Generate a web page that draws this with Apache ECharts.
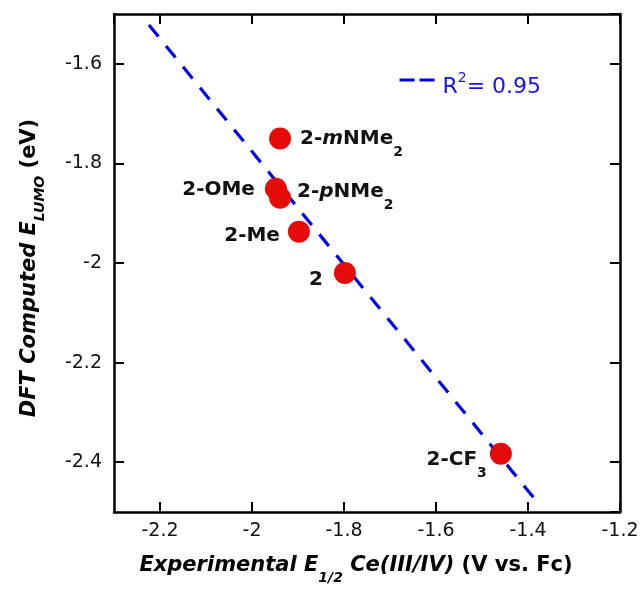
<!DOCTYPE html>
<html>
<head>
<meta charset="utf-8">
<script src="https://cdn.jsdelivr.net/npm/echarts@6/dist/echarts.min.js"></script>
<style>
html,body{margin:0;padding:0;background:#fff;}
#chart{width:644px;height:590px;}
</style>
</head>
<body>
<div id="chart"></div>
<script>
// ---- data ----
const compoundNames = ['2-mNMe2', '2-OMe', '2-pNMe2', '2-Me', '2', '2-CF3'];
const expE12 = [-1.939, -1.948, -1.939, -1.898, -1.798, -1.459];
const dftLUMO = [-1.750, -1.851, -1.869, -1.937, -2.020, -2.383];
const fitX = [-2.224, -1.380];
const fitY = [-1.522, -2.480];
const r2Value = 0.95;
const xRange = [-2.3, -1.2];
const yRange = [-2.5, -1.5];

// ---- label placement (style, not data) ----
const labelPlacement = [
  {position: 'right', distance: 9, offset: [0, 0]},
  {position: 'left', distance: 10, offset: [0, 1]},
  {position: 'right', distance: 6, offset: [0, -6]},
  {position: 'left', distance: 8, offset: [0, 4]},
  {position: 'left', distance: 11, offset: [0, 7]},
  {position: 'left', distance: 3, offset: [0, 6]}
];

function richName(n) {
  let s = n.replace(/^2-([mp])/, '2-{i|$1}');
  s = s.replace(/([A-Za-z])(\d)$/, '$1{s|$2}');
  return s;
}

const FONT = 'DejaVu Sans';
const scatterData = expE12.map((x, i) => ({
  value: [x, dftLUMO[i]],
  name: compoundNames[i],
  label: Object.assign({show: true}, labelPlacement[i])
}));
const fitData = fitX.map((x, i) => [x, fitY[i]]);

const axisCommon = {
  type: 'value',
  splitNumber: 5,
  splitLine: {show: false},
  axisLine: {show: true, onZero: false, lineStyle: {color: '#000', width: 2.5}},
  axisTick: {show: true, inside: true, length: 10, lineStyle: {color: '#000', width: 2}}
};

const tickLabel = {fontFamily: FONT, fontSize: 19, color: '#111'};

const chart = echarts.init(document.getElementById('chart'), null, {renderer: 'canvas'});
chart.setOption({
  animation: false,
  backgroundColor: '#fff',
  grid: {left: 114, right: 24, top: 14, bottom: 72, containLabel: false},
  legend: {
    show: true,
    left: 398,
    top: 62,
    padding: 0,
    data: ['fit'],
    itemWidth: 35,
    itemHeight: 4,
    itemStyle: {opacity: 0},
    lineStyle: {color: '#0000e6', width: 3, type: [15, 5], dashOffset: 0},
    formatter: () => '{a0|R}{s|2}{a|= ' + r2Value.toFixed(2) + '}',
    textStyle: {
      color: '#1414e8', fontFamily: FONT, fontSize: 22,
      rich: {
        a0: {color: '#1414e8', fontFamily: FONT, fontSize: 22, lineHeight: 30, padding: [14, 0, 0, 3]},
        a: {color: '#1414e8', fontFamily: FONT, fontSize: 22, lineHeight: 30, padding: [14, 0, 0, 0]},
        s: {color: '#1414e8', fontFamily: FONT, fontSize: 14, lineHeight: 30, padding: [0, 0, 4, 0]}
      }
    }
  },
  xAxis: [
    Object.assign({}, axisCommon, {
      position: 'bottom',
      min: xRange[0], max: xRange[1],
      axisLabel: Object.assign({show: true, margin: 10, showMinLabel: false, showMaxLabel: true}, tickLabel),
      name: '{bi|Experimental E}{sub|1/2}{bi| Ce(III/IV)}{b| (V vs. Fc)}',
      nameLocation: 'middle',
      nameGap: 41,
      nameTextStyle: {
        fontFamily: FONT, fontSize: 21, fontWeight: 'bold', color: '#000',
        padding: [0, 22, 0, 0],
        rich: {
          bi: {fontFamily: FONT, fontSize: 21, fontWeight: 'bold', fontStyle: 'italic', color: '#000', lineHeight: 26},
          b: {fontFamily: FONT, fontSize: 21, fontWeight: 'bold', color: '#000', lineHeight: 26},
          sub: {fontFamily: FONT, fontSize: 14, fontWeight: 'bold', fontStyle: 'italic', color: '#000', lineHeight: 26, padding: [24, 0, 0, 0]}
        }
      }
    }),
    Object.assign({}, axisCommon, {
      position: 'top',
      min: xRange[0], max: xRange[1],
      axisLabel: {show: false}
    })
  ],
  yAxis: [
    Object.assign({}, axisCommon, {
      position: 'left',
      min: yRange[0], max: yRange[1],
      axisLabel: Object.assign({show: true, margin: 12, showMinLabel: false, showMaxLabel: false}, tickLabel),
      name: '{bi|DFT Computed E}{sub|LUMO}{b| (eV)}',
      nameLocation: 'middle',
      nameGap: 71,
      nameTextStyle: {
        fontFamily: FONT, fontSize: 21, fontWeight: 'bold', color: '#000',
        padding: [0, 10, 0, 0],
        rich: {
          bi: {fontFamily: FONT, fontSize: 21, fontWeight: 'bold', fontStyle: 'italic', color: '#000', lineHeight: 26},
          b: {fontFamily: FONT, fontSize: 21, fontWeight: 'bold', color: '#000', lineHeight: 26},
          sub: {fontFamily: FONT, fontSize: 14, fontWeight: 'bold', fontStyle: 'italic', color: '#000', lineHeight: 26, padding: [20, 0, 0, 0]}
        }
      }
    }),
    Object.assign({}, axisCommon, {
      position: 'right',
      min: yRange[0], max: yRange[1],
      axisLabel: {show: false}
    })
  ],
  series: [
    {
      name: 'fit',
      type: 'line',
      xAxisIndex: 0, yAxisIndex: 0,
      data: fitData,
      symbol: 'none',
      showSymbol: false,
      lineStyle: {color: '#0000e6', width: 3.2, type: [15, 12]},
      itemStyle: {color: '#0000e6'},
      z: 2
    },
    {
      name: 'compounds',
      type: 'scatter',
      xAxisIndex: 0, yAxisIndex: 0,
      data: scatterData,
      symbol: 'circle',
      symbolSize: 22,
      itemStyle: {color: '#e50b0b', opacity: 1},
      label: {
        show: true,
        formatter: p => richName(p.name),
        fontFamily: FONT, fontSize: 20, fontWeight: 'bold', color: '#111',
        lineHeight: 24,
        rich: {
          i: {fontFamily: FONT, fontSize: 20, fontWeight: 'bold', fontStyle: 'italic', color: '#111', lineHeight: 24},
          s: {fontFamily: FONT, fontSize: 14, fontWeight: 'bold', color: '#111', lineHeight: 24, padding: [27, 0, 0, 0]}
        }
      },
      emphasis: {disabled: true},
      z: 3
    }
  ]
});
</script>
</body>
</html>
